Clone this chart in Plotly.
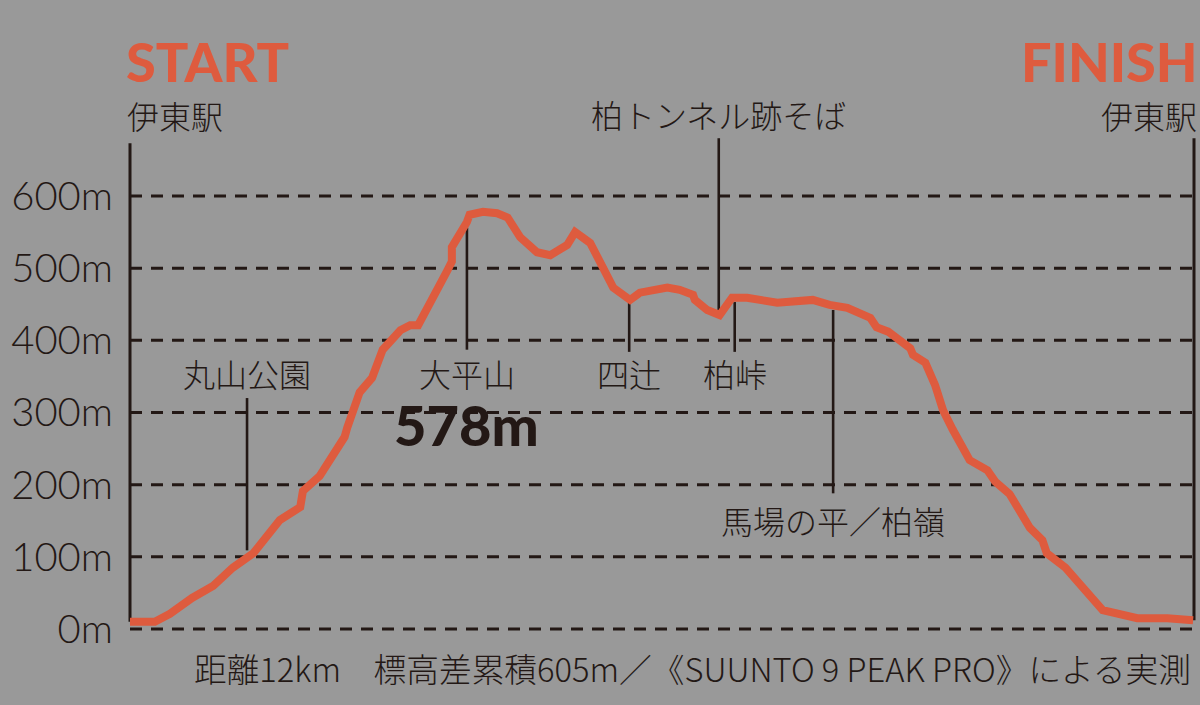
import plotly.graph_objects as go

# ---- data ----
dist_km = [0.0, 0.28, 0.45, 0.70, 0.94, 1.16, 1.39, 1.69, 1.92, 1.95, 2.14, 2.42, 2.45, 2.59, 2.73,
           2.85, 3.05, 3.16, 3.25, 3.46, 3.58, 3.63, 3.63, 3.80, 3.83, 3.98, 4.14, 4.26, 4.40, 4.59,
           4.74, 4.93, 5.02, 5.19, 5.30, 5.45, 5.64, 5.75, 6.06, 6.20, 6.35, 6.37, 6.51, 6.65, 6.79,
           6.96, 7.30, 7.56, 7.70, 7.89, 8.09, 8.35, 8.42, 8.55, 8.80, 8.83, 8.97, 9.08, 9.17, 9.28,
           9.47, 9.67, 9.76, 9.92, 10.15, 10.29, 10.34, 10.55, 10.97, 11.36, 11.70, 11.99]
elev_m = [10, 10, 21, 43, 60, 85, 105, 151, 169, 191, 212, 266, 279, 328, 348,
          387, 414, 421, 421, 466, 497, 509, 529, 564, 574, 578, 576, 570, 543, 522,
          518, 532, 550, 535, 507, 473, 456, 466, 473, 470, 463, 456, 442, 435, 459,
          459, 452, 456, 456, 449, 445, 431, 418, 412, 389, 380, 369, 338, 303, 276,
          234, 220, 204, 187, 140, 123, 105, 85, 26, 15, 15, 12]

y_ticks = [0, 100, 200, 300, 400, 500, 600]
y_tick_labels = ["0m", "100m", "200m", "300m", "400m", "500m", "600m"]

# landmarks: name, km, leader line bottom/top (m), label y (m)
lm_names = ["丸山公園", "大平山", "四辻", "柏峠", "柏トンネル跡そば", "馬場の平／柏嶺"]
lm_km = [1.32, 3.80, 5.63, 6.82, 6.64, 7.93]
lm_line_lo = [109, 387, 384, 384, 441, 188]
lm_line_hi = [320, 556, 452, 453, 680, 442]
lm_label_y = [355, 355, 355, 355, 713, 151]

start_finish_km = [0.0, 12.0]
start_finish_line_lo = [10, 12]
start_finish_line_hi = [673, 680]
station_name = "伊東駅"
peak_label = "578m"
footnote = "距離12km　標高差累積605m／《SUUNTO 9 PEAK PRO》による実測"

# ---- styles / layout ----
BG = "#999999"
ORANGE = "#DE5B3E"
INK = "#231815"
JP = "Noto Sans CJK JP"
Y0, Y1 = -15.24, 691.4
X0, X1 = -0.1128, 12.0677


def px(km):
    return (km - X0) / (X1 - X0)


def py(m):
    return (m - Y0) / (Y1 - Y0)


fig = go.Figure()
fig.add_trace(go.Scatter(x=dist_km, y=elev_m, mode="lines",
                         line=dict(color=ORANGE, width=8), cliponaxis=False,
                         hoverinfo="skip", showlegend=False))

shapes = []
for v in y_ticks:
    shapes.append(dict(type="line", xref="x", yref="y", x0=0, x1=12, y0=v, y1=v,
                       line=dict(color=INK, width=3, dash="12px,9px"), layer="below"))
for k, lo, hi in zip(start_finish_km, start_finish_line_lo, start_finish_line_hi):
    shapes.append(dict(type="line", xref="x", yref="y", x0=k, x1=k, y0=lo, y1=hi,
                       line=dict(color=INK, width=3), layer="below"))
for k, lo, hi in zip(lm_km, lm_line_lo, lm_line_hi):
    shapes.append(dict(type="line", xref="x", yref="y", x0=k, x1=k, y0=lo, y1=hi,
                       line=dict(color=INK, width=2.6), layer="below"))

ann = []
for n, k, ly in zip(lm_names, lm_km, lm_label_y):
    ann.append(dict(x=px(k), y=py(ly), xref="paper", yref="paper", text=n, showarrow=False,
                    font=dict(family=JP, size=32, color=INK, weight=300),
                    xanchor="center", yanchor="middle"))
ann.append(dict(x=px(lm_km[1]), y=py(284), xref="paper", yref="paper", text=peak_label,
                showarrow=False, font=dict(family="Lato", size=56, color=INK, weight=900),
                xanchor="center", yanchor="middle"))
ann.append(dict(x=px(0), y=py(712), xref="paper", yref="paper", text=station_name,
                showarrow=False, font=dict(family=JP, size=32, color=INK, weight=300),
                xanchor="left", yanchor="middle", xshift=-5))
ann.append(dict(x=px(12), y=py(712), xref="paper", yref="paper", text=station_name,
                showarrow=False, font=dict(family=JP, size=32, color=INK, weight=300),
                xanchor="right", yanchor="middle", xshift=5))
ann.append(dict(x=px(0), y=py(786), xref="paper", yref="paper", text="START", showarrow=False,
                font=dict(family="Lato", size=54, color=ORANGE, weight=900),
                xanchor="left", yanchor="middle", xshift=-6))
ann.append(dict(x=px(12), y=py(786), xref="paper", yref="paper", text="FINISH", showarrow=False,
                font=dict(family="Lato", size=54, color=ORANGE, weight=900),
                xanchor="right", yanchor="middle", xshift=6))
ann.append(dict(x=px(6.3), y=py(-54), xref="paper", yref="paper", text=footnote,
                showarrow=False, font=dict(family=JP, size=32.7, color=INK, weight=300),
                xanchor="center", yanchor="middle", xshift=4))

fig.update_layout(
    width=1200, height=705,
    paper_bgcolor=BG, plot_bgcolor=BG,
    margin=dict(l=120, r=0, t=130, b=65),
    xaxis=dict(range=[X0, X1], visible=False, fixedrange=True),
    yaxis=dict(range=[Y0, Y1], tickvals=y_ticks, ticktext=y_tick_labels,
               showgrid=False, zeroline=False, showline=False, ticks="",
               tickfont=dict(family="Lato", size=40, color=INK, weight=300),
               ticklabelstandoff=6, fixedrange=True),
    shapes=shapes, annotations=ann, showlegend=False,
)
fig.write_html("out.html", config={"staticPlot": True},
               post_script="document.body.style.margin='0';document.body.style.background='#999999';")
